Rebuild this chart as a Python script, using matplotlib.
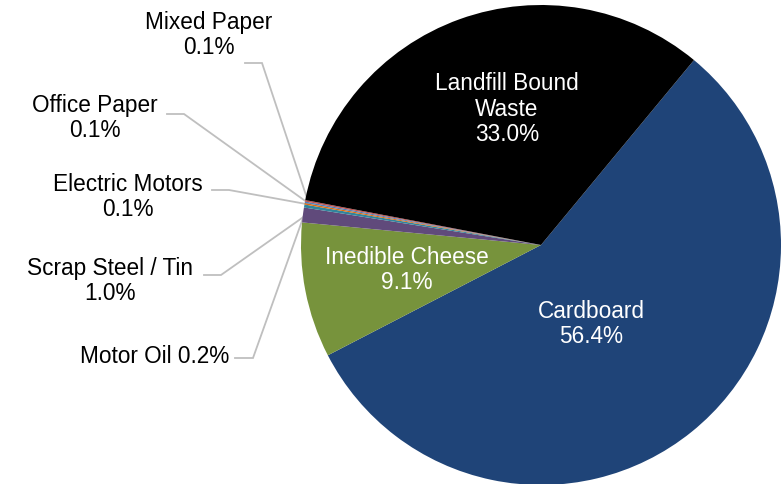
import matplotlib
matplotlib.use("Agg")
import matplotlib.pyplot as plt
import numpy as np

# Data (clockwise from the top-right boundary)
categories = ["Cardboard", "Inedible Cheese", "Scrap Steel / Tin", "Motor Oil",
              "Electric Motors", "Office Paper", "Mixed Paper", "Landfill Bound\nWaste"]
shares = [56.4, 9.1, 1.0, 0.2, 0.1, 0.1, 0.1, 33.0]
colors = ["#1F4478", "#77933C", "#604A7B", "#31859C", "#E46C0A",
          "#4F81BD", "#C0504D", "#000000"]

plt.rcParams["font.family"] = ["Liberation Sans", "DejaVu Sans"]

W, H = 782, 485
fig = plt.figure(figsize=(W / 100, H / 100), dpi=100)
ax = fig.add_axes([0, 0, 1, 1])

cx, cy, r = 541, H - 246, 240
start = 50.4
wedges, _ = ax.pie(shares, colors=colors, startangle=start, counterclock=False,
                   center=(cx, cy), radius=r, frame=True,
                   wedgeprops={"linewidth": 0})
ax.set_xlim(0, W)
ax.set_ylim(0, H)
ax.set_aspect("equal")
ax.axis("off")

fs = 16.3
ls = 1.13
# inside labels (pixel positions, y from top)
inside = {0: (591, 324), 1: (407, 270), 7: (507, 109)}
for i, (px, py) in inside.items():
    ax.text(px, H - py, f"{categories[i]}\n{shares[i]:.1f}%", ha="center",
            va="center", color="white", fontsize=fs, linespacing=ls)

# outside labels: text centre, line start, elbow end
outside = {
    6: ((209, 35), (245, 64), (262, 64)),
    5: ((95, 118), (167, 115), (184, 115)),
    4: ((128, 197), (212, 191), (229, 191)),
    2: ((110, 281), (204, 276), (221, 276)),
    3: ((155, 357), (235, 359), (253, 359)),
}
for i, ((tx, ty), (sx, sy), (ex, ey)) in outside.items():
    w = wedges[i]
    mid = np.deg2rad((w.theta1 + w.theta2) / 2)
    px = cx + (r - 3) * np.cos(mid)
    py = cy + (r - 3) * np.sin(mid)
    ax.plot([sx, ex, px], [H - sy, H - ey, py], color="#BFBFBF", lw=1.3,
            zorder=0.5, solid_joinstyle="miter")
    if i == 3:
        label = f"{categories[i]} {shares[i]:.1f}%"
    else:
        label = f"{categories[i]}\n{shares[i]:.1f}%"
    ax.text(tx, H - ty, label, ha="center", va="center", color="black",
            fontsize=fs, linespacing=ls)

fig.savefig("out.png", dpi=100)
